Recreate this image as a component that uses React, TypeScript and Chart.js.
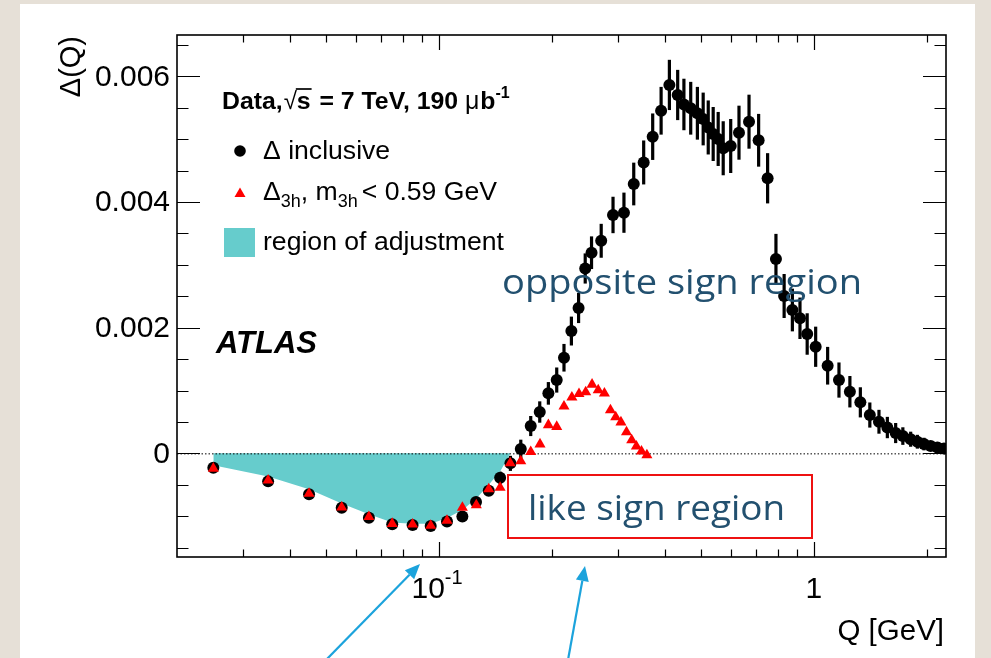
import { useEffect, useRef } from 'react';
import { Chart, registerables } from 'chart.js';

Chart.register(...registerables);

// Δ(Q) for all pairs, with statistical errors
const inclusiveQ = [
  0.025, 0.035, 0.045, 0.055, 0.065, 0.075, 0.085, 0.095, 0.105, 0.1154,
  0.1255, 0.1357, 0.1455, 0.155, 0.1652, 0.1756, 0.1856, 0.1957, 0.206, 0.2154,
  0.2254, 0.2356, 0.2454, 0.2551, 0.2707, 0.2911, 0.3113, 0.3306, 0.3514, 0.3714,
  0.3911, 0.4115, 0.433, 0.4499, 0.4691, 0.4887, 0.5064, 0.5224, 0.5385, 0.5553,
  0.5727, 0.5997, 0.631, 0.6711, 0.7119, 0.7523, 0.7918, 0.8326, 0.8758, 0.9177,
  0.9592, 1.0105, 1.0876, 1.166, 1.2469, 1.3296, 1.4093, 1.4907, 1.5694, 1.6516,
  1.7262, 1.8111, 1.8872, 1.9652, 2.0476, 2.1337, 2.2222,
];
const inclusiveDelta = [
  -2.29e-4, -4.46e-4, -6.51e-4, -8.66e-4, -1.025e-3, -1.129e-3, -1.142e-3, -1.158e-3, -1.083e-3, -1.006e-3,
  -7.75e-4, -5.97e-4, -3.9e-4, -1.59e-4, 6.8e-5, 4.35e-4, 6.58e-4, 9.55e-4, 1.167e-3, 1.522e-3,
  1.947e-3, 2.314e-3, 2.943e-3, 3.194e-3, 3.384e-3, 3.795e-3, 3.831e-3, 4.288e-3, 4.631e-3, 5.041e-3,
  5.454e-3, 5.865e-3, 5.705e-3, 5.554e-3, 5.494e-3, 5.414e-3, 5.323e-3, 5.188e-3, 5.084e-3, 5.005e-3,
  4.857e-3, 4.893e-3, 5.105e-3, 5.28e-3, 4.984e-3, 4.379e-3, 3.094e-3, 2.505e-3, 2.282e-3, 2.15e-3,
  1.9e-3, 1.697e-3, 1.395e-3, 1.167e-3, 9.81e-4, 8.12e-4, 6.1e-4, 5.03e-4, 4.11e-4, 3.23e-4,
  2.75e-4, 2.25e-4, 1.85e-4, 1.48e-4, 1.16e-4, 9.2e-5, 7.6e-5,
];
const inclusiveErr = [
  4e-5, 4e-5, 4e-5, 4e-5, 4e-5, 4e-5, 4e-5, 4e-5, 4e-5, 4e-5,
  7e-5, 8e-5, 1e-4, 1.2e-4, 1.5e-4, 1.6e-4, 1.7e-4, 1.8e-4, 2e-4, 2.2e-4,
  2.3e-4, 2.4e-4, 2.4e-4, 2.6e-4, 2.7e-4, 2.9e-4, 3.2e-4, 3.4e-4, 3.5e-4, 3.7e-4,
  3.8e-4, 4e-4, 4e-4, 4.1e-4, 4.2e-4, 4.2e-4, 4.2e-4, 4.3e-4, 4.3e-4, 4.3e-4,
  4.3e-4, 4.3e-4, 4.3e-4, 4.3e-4, 4.2e-4, 4e-4, 4e-4, 3.5e-4, 3.4e-4, 3.3e-4,
  3.3e-4, 3.2e-4, 3e-4, 2.8e-4, 2.5e-4, 2.4e-4, 2e-4, 1.9e-4, 1.7e-4, 1.6e-4,
  1.4e-4, 1.2e-4, 1.1e-4, 1e-4, 8e-5, 7e-5, 6e-5,
];

// Δ_3h for m_3h < 0.59 GeV
const threeHadQ = [
  0.025, 0.035, 0.045, 0.055, 0.065, 0.075, 0.085, 0.095, 0.105, 0.1154,
  0.1257, 0.1357, 0.1455, 0.1548, 0.1652, 0.1756, 0.1859, 0.1957, 0.206, 0.2154,
  0.2261, 0.2362, 0.2461, 0.2559, 0.2658, 0.2761, 0.2865, 0.2959, 0.3056, 0.3162,
  0.3265, 0.336, 0.3467, 0.3584,
];
const threeHadDelta = [
  -2.4e-4, -4.3e-4, -6.4e-4, -8.6e-4, -1.01e-3, -1.12e-3, -1.13e-3, -1.15e-3, -1.07e-3, -8.63e-4,
  -8.23e-4, -5.68e-4, -5.45e-4, -1.54e-4, -1.23e-4, 2.5e-5, 1.45e-4, 4.51e-4, 4.24e-4, 7.48e-4,
  8.92e-4, 9.47e-4, 9.76e-4, 1.096e-3, 1.008e-3, 9.55e-4, 6.89e-4, 5.78e-4, 4.95e-4, 3.39e-4,
  2.12e-4, 1.11e-4, 3.3e-5, -2.7e-5,
];

// region of adjustment (like-sign dip)
const adjustQ = [0.025, 0.035, 0.045, 0.055, 0.065, 0.075, 0.085, 0.095, 0.105, 0.1154, 0.1257, 0.1357, 0.1455, 0.155];
const adjustDelta = [-1.9e-4, -3.7e-4, -5.7e-4, -8.0e-4, -9.7e-4, -1.1e-3, -1.12e-3, -1.12e-3, -1.03e-3, -9.0e-4, -7.2e-4, -5.0e-4, -2.9e-4, 0];

// axis ticks
const yMajorTicks = [0, 0.002, 0.004, 0.006];
const yTickLabels = ['0', '0.002', '0.004', '0.006'];
const yMinorTicks = [-0.0015, -0.001, -0.0005, 0.0005, 0.001, 0.0015, 0.0025, 0.003, 0.0035, 0.0045, 0.005, 0.0055, 0.0065];
const xMajorTicks = [0.1, 1];
const xMinorTicks = [0.03, 0.04, 0.05, 0.06, 0.07, 0.08, 0.09, 0.2, 0.3, 0.4, 0.5, 0.6, 0.7, 0.8, 0.9, 2];

const X_MIN = 0.02;
const X_MAX = 2.25;
const Y_MIN = -0.00165;
const Y_MAX = 0.00666;

const W = 991;
const H = 658;
const HELV = '"Liberation Sans", Arial, Helvetica, sans-serif';
const GOTHIC = '"Open Sans", "Noto Sans", sans-serif';
const NOTE_BLUE = '#22506f';
const ARROW_BLUE = '#1ca3dc';
const FILL_CYAN = '#66cccc';

type Piece = { t: string; font: string; dy?: number; gap?: number; over?: boolean };

function drawPieces(ctx: CanvasRenderingContext2D, x: number, y: number, pieces: Piece[]) {
  let cx = x;
  for (const p of pieces) {
    ctx.font = p.font;
    const dy = p.dy || 0;
    ctx.fillText(p.t, cx, y + dy);
    const w = ctx.measureText(p.t).width;
    if (p.over) {
      ctx.save();
      ctx.lineWidth = 1.7;
      ctx.beginPath();
      ctx.moveTo(cx - 1, y - 20);
      ctx.lineTo(cx + w + 1, y - 20);
      ctx.stroke();
      ctx.restore();
    }
    cx += w + (p.gap || 0);
  }
  return cx;
}

function drawFitted(ctx: CanvasRenderingContext2D, text: string, x: number, y: number, width: number) {
  const w = ctx.measureText(text).width;
  ctx.save();
  ctx.translate(x, y);
  ctx.scale(width / w, 1);
  ctx.fillText(text, 0, 0);
  ctx.restore();
}

function drawArrow(ctx: CanvasRenderingContext2D, x0: number, y0: number, x1: number, y1: number) {
  const ang = Math.atan2(y1 - y0, x1 - x0);
  const len = 15;
  const half = 6.5;
  const bx = x1 - Math.cos(ang) * len;
  const by = y1 - Math.sin(ang) * len;
  ctx.save();
  ctx.strokeStyle = ARROW_BLUE;
  ctx.fillStyle = ARROW_BLUE;
  ctx.lineWidth = 2.2;
  ctx.beginPath();
  ctx.moveTo(x0, y0);
  ctx.lineTo(bx, by);
  ctx.stroke();
  ctx.beginPath();
  ctx.moveTo(x1, y1);
  ctx.lineTo(bx + Math.sin(ang) * half, by - Math.cos(ang) * half);
  ctx.lineTo(bx - Math.sin(ang) * half, by + Math.cos(ang) * half);
  ctx.closePath();
  ctx.fill();
  ctx.restore();
}

const atlasDecor = {
  id: 'atlasDecor',
  beforeDatasetsDraw(chart: any) {
    const { ctx } = chart;
    const xs = chart.scales.x;
    const ys = chart.scales.y;
    ctx.save();
    ctx.strokeStyle = '#000';
    ctx.lineWidth = 3.2;
    inclusiveQ.forEach((q, i) => {
      const px = xs.getPixelForValue(q);
      ctx.beginPath();
      ctx.moveTo(px, ys.getPixelForValue(inclusiveDelta[i] + inclusiveErr[i]));
      ctx.lineTo(px, ys.getPixelForValue(inclusiveDelta[i] - inclusiveErr[i]));
      ctx.stroke();
    });
    ctx.restore();
  },
  afterDatasetDraw(chart: any, args: any) {
    if (args.index !== 0) return;
    const { ctx, chartArea } = chart;
    const y0 = chart.scales.y.getPixelForValue(0);
    ctx.save();
    ctx.strokeStyle = '#000';
    ctx.lineWidth = 1;
    ctx.setLineDash([1.5, 2]);
    ctx.beginPath();
    ctx.moveTo(chartArea.left, y0 + 0.5);
    ctx.lineTo(chartArea.right, y0 + 0.5);
    ctx.stroke();
    ctx.restore();
  },
  afterDraw(chart: any) {
    const { ctx, chartArea } = chart;
    const xs = chart.scales.x;
    const ys = chart.scales.y;
    const { left, right, top, bottom } = chartArea;
    ctx.save();

    // frame
    ctx.strokeStyle = '#000';
    ctx.lineWidth = 1.6;
    ctx.strokeRect(left, top, right - left, bottom - top);

    // y ticks on both sides, pointing inwards
    ctx.lineWidth = 1.2;
    const yTick = (v: number, len: number) => {
      const py = Math.round(ys.getPixelForValue(v)) + 0.5;
      ctx.beginPath();
      ctx.moveTo(left, py);
      ctx.lineTo(left + len, py);
      ctx.moveTo(right, py);
      ctx.lineTo(right - len, py);
      ctx.stroke();
    };
    yMajorTicks.forEach((v) => yTick(v, 23));
    yMinorTicks.forEach((v) => yTick(v, 11.5));

    // x ticks on bottom and top
    const xTick = (v: number, len: number) => {
      const px = Math.round(xs.getPixelForValue(v)) + 0.5;
      ctx.beginPath();
      ctx.moveTo(px, bottom);
      ctx.lineTo(px, bottom - len);
      ctx.moveTo(px, top);
      ctx.lineTo(px, top + len);
      ctx.stroke();
    };
    xMajorTicks.forEach((v) => xTick(v, 15));
    xMinorTicks.forEach((v) => xTick(v, 7.5));

    // tick labels
    const tickFont = `30px ${HELV}`;
    ctx.fillStyle = '#000';
    ctx.font = tickFont;
    ctx.textAlign = 'right';
    ctx.textBaseline = 'middle';
    yMajorTicks.forEach((v, i) => {
      ctx.fillText(yTickLabels[i], left - 7, ys.getPixelForValue(v) + 1);
    });

    ctx.textBaseline = 'alphabetic';
    ctx.textAlign = 'left';
    {
      const px = xs.getPixelForValue(xMajorTicks[0]);
      ctx.font = tickFont;
      const wBase = ctx.measureText('10').width;
      ctx.font = `20px ${HELV}`;
      const wExp = ctx.measureText('-1').width;
      const x0 = px - (wBase + wExp) / 2 - 2;
      ctx.font = tickFont;
      ctx.fillText('10', x0, 598);
      ctx.font = `20px ${HELV}`;
      ctx.fillText('-1', x0 + wBase, 584);
    }
    ctx.textAlign = 'center';
    ctx.font = tickFont;
    ctx.fillText('1', xs.getPixelForValue(xMajorTicks[1]), 598);

    // axis titles
    ctx.textAlign = 'right';
    ctx.font = `29.5px ${HELV}`;
    ctx.fillText('Q [GeV]', right - 2, 640);
    ctx.save();
    ctx.translate(80, 36);
    ctx.rotate(-Math.PI / 2);
    ctx.textAlign = 'right';
    ctx.textBaseline = 'alphabetic';
    ctx.font = `29px ${HELV}`;
    ctx.fillText('Δ(Q)', 0, 0);
    ctx.restore();

    // header and legend
    ctx.textAlign = 'left';
    const bold = `bold 24.8px ${HELV}`;
    drawPieces(ctx, 222, 109, [
      { t: 'Data,', font: bold, gap: 1 },
      { t: '√', font: `24px ${HELV}` },
      { t: 's', font: bold, over: true, gap: 2 },
      { t: ' = 7 TeV, 190 ', font: bold },
      { t: 'μ', font: `25px ${HELV}`, gap: 1 },
      { t: 'b', font: bold },
      { t: '-1', font: `bold 16px ${HELV}`, dy: -11 },
    ]);

    ctx.fillStyle = '#000';
    ctx.beginPath();
    ctx.arc(240, 151, 5.8, 0, Math.PI * 2);
    ctx.fill();
    const reg = `26.6px ${HELV}`;
    const sub = `18px ${HELV}`;
    ctx.font = reg;
    ctx.fillText('Δ inclusive', 263, 159);

    ctx.fillStyle = '#ff0000';
    ctx.beginPath();
    ctx.moveTo(240, 187.5);
    ctx.lineTo(245.5, 197);
    ctx.lineTo(234.5, 197);
    ctx.closePath();
    ctx.fill();
    ctx.fillStyle = '#000';
    drawPieces(ctx, 263, 200, [
      { t: 'Δ', font: reg },
      { t: '3h', font: sub, dy: 7 },
      { t: ', m', font: reg },
      { t: '3h', font: sub, dy: 7, gap: 4 },
      { t: '< 0.59 GeV', font: reg },
    ]);

    ctx.fillStyle = FILL_CYAN;
    ctx.fillRect(224, 228, 31, 29);
    ctx.fillStyle = '#000';
    ctx.font = reg;
    ctx.fillText('region of adjustment', 263, 250);

    ctx.font = `italic bold 31px ${HELV}`;
    ctx.fillText('ATLAS', 216, 353);

    // annotations
    ctx.fillStyle = NOTE_BLUE;
    ctx.font = `35px ${GOTHIC}`;
    drawFitted(ctx, 'opposite sign region', 502, 294, 360);
    ctx.font = `35px ${GOTHIC}`;
    drawFitted(ctx, 'like sign region', 528, 520, 257);

    ctx.strokeStyle = '#ee1111';
    ctx.lineWidth = 2;
    ctx.strokeRect(508, 475, 304, 63);

    drawArrow(ctx, 326, 660, 420, 564);
    drawArrow(ctx, 568, 660, 585, 566);

    ctx.restore();
  },
};

export default function App() {
  const canvasRef = useRef<HTMLCanvasElement | null>(null);

  useEffect(() => {
    const canvas = canvasRef.current;
    if (!canvas) return;
    const chart = new Chart(canvas, {
      type: 'scatter',
      data: {
        datasets: [
          {
            label: 'region of adjustment',
            type: 'line',
            data: adjustQ.map((x, i) => ({ x, y: adjustDelta[i] })),
            showLine: true,
            fill: 'origin',
            backgroundColor: FILL_CYAN,
            borderWidth: 0,
            borderColor: 'rgba(0,0,0,0)',
            pointRadius: 0,
            order: 3,
          },
          {
            label: 'Δ inclusive',
            data: inclusiveQ.map((x, i) => ({ x, y: inclusiveDelta[i] })),
            pointStyle: 'circle',
            pointRadius: 6,
            backgroundColor: '#000',
            borderColor: '#000',
            borderWidth: 0,
            order: 2,
          },
          {
            label: 'Δ3h, m3h < 0.59 GeV',
            data: threeHadQ.map((x, i) => ({ x, y: threeHadDelta[i] })),
            pointStyle: 'triangle',
            pointRadius: 6.4,
            backgroundColor: '#ff0000',
            borderColor: '#ff0000',
            borderWidth: 0,
            order: 1,
          },
        ],
      },
      options: {
        animation: false,
        responsive: false,
        maintainAspectRatio: false,
        devicePixelRatio: 1,
        layout: { padding: { left: 177, top: 35, right: 45, bottom: 101 } },
        scales: {
          x: { type: 'logarithmic', min: X_MIN, max: X_MAX, display: false },
          y: { type: 'linear', min: Y_MIN, max: Y_MAX, display: false },
        },
        plugins: {
          legend: { display: false },
          tooltip: { enabled: false },
        },
      },
      plugins: [atlasDecor],
    });
    return () => chart.destroy();
  }, []);

  return (
    <div
      style={{
        position: 'fixed',
        left: 0,
        top: 0,
        width: W,
        height: H,
        background: '#e6e0d7',
        overflow: 'hidden',
      }}
    >
      <div style={{ position: 'absolute', left: 20, top: 4, width: 955, height: H - 4, background: '#fff' }} />
      <canvas
        ref={canvasRef}
        width={W}
        height={H}
        style={{ position: 'absolute', left: 0, top: 0, width: W, height: H }}
      />
    </div>
  );
}
